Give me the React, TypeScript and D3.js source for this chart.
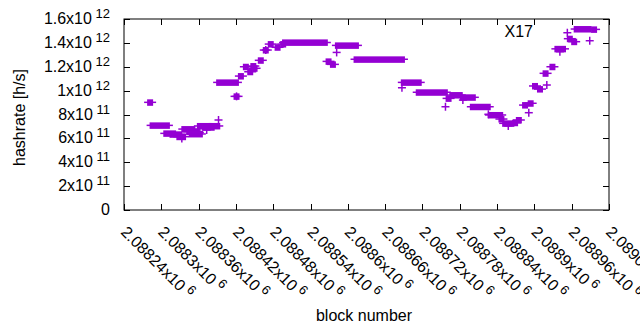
import React from 'react';
import * as d3 from 'd3';

// hashrate samples
// runs of consecutive squares: [first block, last block, hashrate]
const squareRuns: [number, number, number][] = [
  [2088282, 2088282, 9.02e11],
  [2088286, 2088309, 7.09e11],
  [2088308, 2088319, 6.42e11],
  [2088318, 2088329, 6.34e11],
  [2088329, 2088335, 6.14e11],
  [2088337, 2088350, 6.78e11],
  [2088345, 2088357, 6.56e11],
  [2088349, 2088362, 6.37e11],
  [2088362, 2088376, 7.04e11],
  [2088370, 2088381, 6.93e11],
  [2088381, 2088390, 7.04e11],
  [2088393, 2088420, 10.69e11],
  [2088421, 2088421, 9.52e11],
  [2088428, 2088428, 11.22e11],
  [2088436, 2088436, 12.0e11],
  [2088443, 2088443, 11.58e11],
  [2088448, 2088448, 12.06e11],
  [2088450, 2088450, 11.87e11],
  [2088460, 2088460, 12.54e11],
  [2088468, 2088468, 13.4e11],
  [2088476, 2088476, 13.9e11],
  [2088487, 2088487, 13.63e11],
  [2088496, 2088496, 13.9e11],
  [2088499, 2088563, 14.04e11],
  [2088569, 2088569, 12.45e11],
  [2088576, 2088576, 12.2e11],
  [2088584, 2088613, 13.79e11],
  [2088614, 2088687, 12.62e11],
  [2088690, 2088714, 10.69e11],
  [2088714, 2088756, 9.86e11],
  [2088762, 2088762, 9.35e11],
  [2088768, 2088780, 9.63e11],
  [2088785, 2088801, 9.44e11],
  [2088801, 2088825, 8.65e11],
  [2088830, 2088845, 7.96e11],
  [2088847, 2088847, 7.62e11],
  [2088853, 2088863, 7.26e11],
  [2088869, 2088869, 7.31e11],
  [2088875, 2088875, 7.54e11],
  [2088885, 2088885, 8.79e11],
  [2088894, 2088894, 8.94e11],
  [2088901, 2088901, 10.39e11],
  [2088909, 2088909, 10.13e11],
  [2088918, 2088918, 11.45e11],
  [2088929, 2088929, 12.0e11],
  [2088937, 2088946, 13.5e11],
  [2088957, 2088957, 14.35e11],
  [2088964, 2088964, 14.1e11],
  [2088968, 2088987, 15.16e11],
  [2088996, 2088996, 15.13e11],
];

// single "+" points: [block, hashrate]
const crossPoints: [number, number][] = [
  [2088333, 6.0e11],
  [2088362, 6.5e11],
  [2088373, 6.7e11],
  [2088392, 7.54e11],
  [2088421, 9.52e11],
  [2088468, 13.4e11],
  [2088582, 13.2e11],
  [2088687, 10.24e11],
  [2088757, 8.65e11],
  [2088785, 9.21e11],
  [2088826, 8.02e11],
  [2088858, 7.04e11],
  [2088891, 8.15e11],
  [2088920, 10.47e11],
  [2088941, 13.26e11],
  [2088953, 14.85e11],
  [2088989, 14.18e11],
];

const xTicks = d3.range(2088240, 2089021, 60);
const yTicks = d3.range(0, 1.6e12 + 1, 2e11);

const W = 640;
const H = 330;
const left = 124, right = 609, top = 19, bottom = 210;
const color = '#9400d3';
const font = 'Liberation Sans, Arial, sans-serif';

const x = d3.scaleLinear().domain([2088240, 2089020]).range([left, right]);
const y = d3.scaleLinear().domain([0, 1.6e12]).range([bottom, top]);

function sciParts(v: number): [string, string] | null {
  if (v === 0) return null;
  const e = Math.floor(Math.log10(v) + 1e-9);
  const m = +(v / Math.pow(10, e)).toFixed(1);
  return [`${m}x10`, `${e}`];
}

export default function App() {
  const tick = 6;
  return (
    <div style={{ position: 'absolute', left: 0, top: 0 }}>
      <svg width={W} height={H} style={{ display: 'block', background: '#fff', fontFamily: font }}>
        {/* data */}
        <g>
          {squareRuns.map(([a, b, v], i) => (
            <g key={'r' + i}>
              <rect x={x(a) - 3} y={y(v) - 3} width={x(b) - x(a) + 6} height={6.5} fill={color} />
              <line x1={x(a) - 6} x2={x(b) + 6} y1={y(v)} y2={y(v)} stroke={color} strokeWidth={1.5} />
            </g>
          ))}
          {crossPoints.map(([b, v], i) => (
            <g key={'c' + i} stroke={color} strokeWidth={1.5}>
              <line x1={x(b) - 4} x2={x(b) + 4} y1={y(v)} y2={y(v)} />
              <line x1={x(b)} x2={x(b)} y1={y(v) - 4} y2={y(v) + 4} />
            </g>
          ))}
        </g>

        {/* frame and ticks */}
        <rect x={left} y={top} width={right - left} height={bottom - top} fill="none" stroke="#000" strokeWidth={1} />
        {yTicks.map((t) => (
          <g key={'yt' + t} stroke="#000">
            <line x1={left} x2={left + tick} y1={Math.round(y(t)) + 0.5} y2={Math.round(y(t)) + 0.5} />
            <line x1={right} x2={right - tick} y1={Math.round(y(t)) + 0.5} y2={Math.round(y(t)) + 0.5} />
          </g>
        ))}
        {xTicks.map((t) => (
          <g key={'xt' + t} stroke="#000">
            <line x1={Math.round(x(t)) + 0.5} x2={Math.round(x(t)) + 0.5} y1={bottom} y2={bottom - tick} />
            <line x1={Math.round(x(t)) + 0.5} x2={Math.round(x(t)) + 0.5} y1={top} y2={top + tick} />
          </g>
        ))}

        {/* y tick labels */}
        {yTicks.map((t) => {
          const p = sciParts(t);
          return (
            <text key={'yl' + t} x={110} y={y(t) + 5} textAnchor="end" fontSize={16} fill="#000">
              {p ? (
                <>
                  {p[0]}
                  <tspan fontSize={13} dy={-6}>{' ' + p[1]}</tspan>
                </>
              ) : (
                '0'
              )}
            </text>
          );
        })}

        {/* x tick labels */}
        {xTicks.map((t) => {
          const lx = x(t) - 4;
          const ly = 233;
          return (
            <text key={'xl' + t} x={lx} y={ly} transform={`rotate(45 ${lx} ${ly})`} fontSize={16} fill="#000">
              {String(+(t / 1e6).toFixed(5))}x10
              <tspan fontSize={13} dy={-6}>{' 6'}</tspan>
            </text>
          );
        })}

        {/* axis titles */}
        <text transform={`translate(25 117.5) rotate(-90)`} textAnchor="middle" fontSize={16} fill="#000">
          hashrate [h/s]
        </text>
        <text x={364} y={321} textAnchor="middle" fontSize={16} fill="#000">
          block number
        </text>

        {/* key */}
        <text x={533} y={37} textAnchor="end" fontSize={16} fill="#000">
          X17
        </text>
      </svg>
    </div>
  );
}
